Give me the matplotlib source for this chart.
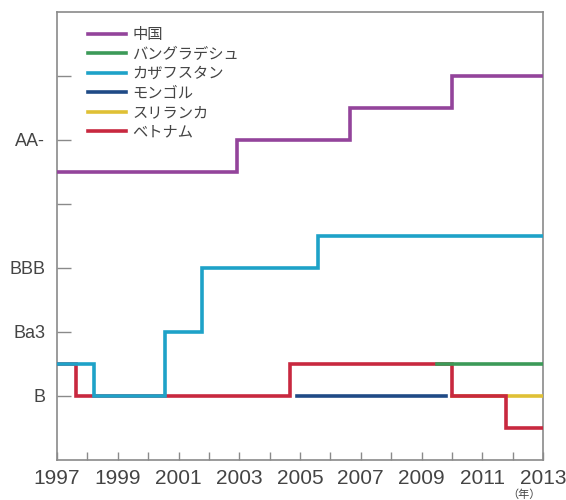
import matplotlib
matplotlib.use('Agg')
import matplotlib.pyplot as plt

plt.rcParams['font.family'] = ['Liberation Sans', 'Noto Sans CJK JP', 'DejaVu Sans']

# rating steps (year, level) - level 0 = B, 1 = Ba3, 2 = BBB, 4 = AA-
china_x = [1997, 2002.92, 2006.64, 2010.0, 2013]
china_y = [3.5, 4.0, 4.5, 5.0, 5.0]
bangladesh_x = [2009.5, 2013]
bangladesh_y = [0.5, 0.5]
kazakh_x = [1997, 1998.23, 2000.56, 2001.76, 2005.59, 2013]
kazakh_y = [0.5, 0.0, 1.0, 2.0, 2.5, 2.5]
mongol_x = [2004.9, 2009.8]
mongol_y = [0.0, 0.0]
srilanka_x = [2010.0, 2013]
srilanka_y = [0.0, 0.0]
vietnam_x = [1997, 1997.62, 2004.67, 2010.0, 2011.78, 2013]
vietnam_y = [0.5, 0.0, 0.5, 0.0, -0.5, -0.5]

names = ['中国', 'バングラデシュ', 'カザフスタン', 'モンゴル', 'スリランカ', 'ベトナム']
colors = ['#93449b', '#3c9a58', '#1ea2c8', '#1f4a86', '#dfc035', '#c8283f']

ytick_pos = [0, 1, 2, 3, 4, 5]
ytick_labels = ['B', 'Ba3', 'BBB', '', 'AA-', '']

fig = plt.figure(figsize=(5.66, 5.0), dpi=100)
ax = fig.add_axes([57/566, 40/500, 486/566, 448/500])

series = [(china_x, china_y), (bangladesh_x, bangladesh_y), (kazakh_x, kazakh_y),
          (mongol_x, mongol_y), (srilanka_x, srilanka_y), (vietnam_x, vietnam_y)]
# draw order so overlaps look like the original
zorders = [3, 6, 7, 4, 3, 5]
handles = []
for (xs, ys), name, c, z in zip(series, names, colors, zorders):
    h, = ax.plot(xs, ys, drawstyle='steps-post', color=c, lw=2.6, label=name,
                 zorder=z, solid_joinstyle='miter')
    handles.append(h)

ax.set_xlim(1997, 2013)
ax.set_ylim(-1, 6)
ax.set_xticks(range(1997, 2014, 2))
ax.set_xticks(range(1997, 2014), minor=True)
ax.set_yticks(ytick_pos)
ax.set_yticklabels(ytick_labels)

for s in ax.spines.values():
    s.set_color('#8a8a8a')
    s.set_linewidth(1.2)
ax.tick_params(axis='both', which='both', direction='in', color='#8a8a8a',
               labelcolor='#444444')
ax.tick_params(axis='x', which='both', length=6, width=1.0, pad=6.5, labelsize=15)
ax.tick_params(axis='y', length=10, width=1.0, pad=8.5, labelsize=13)

# unit label under the last year
ax.annotate('（年）', xy=(1.0, 0), xycoords='axes fraction', xytext=(-14, -21),
            textcoords='offset points', fontsize=8, color='#444444',
            ha='center', va='top', fontfamily=['Noto Sans CJK JP'])

leg = ax.legend(handles=handles, loc='upper left', bbox_to_anchor=(0.035, 0.995),
                frameon=False, fontsize=11, handlelength=2.5, labelspacing=0.36,
                handletextpad=0.4)
for t in leg.get_texts():
    t.set_color('#444444')

fig.savefig('out.png', dpi=100)
